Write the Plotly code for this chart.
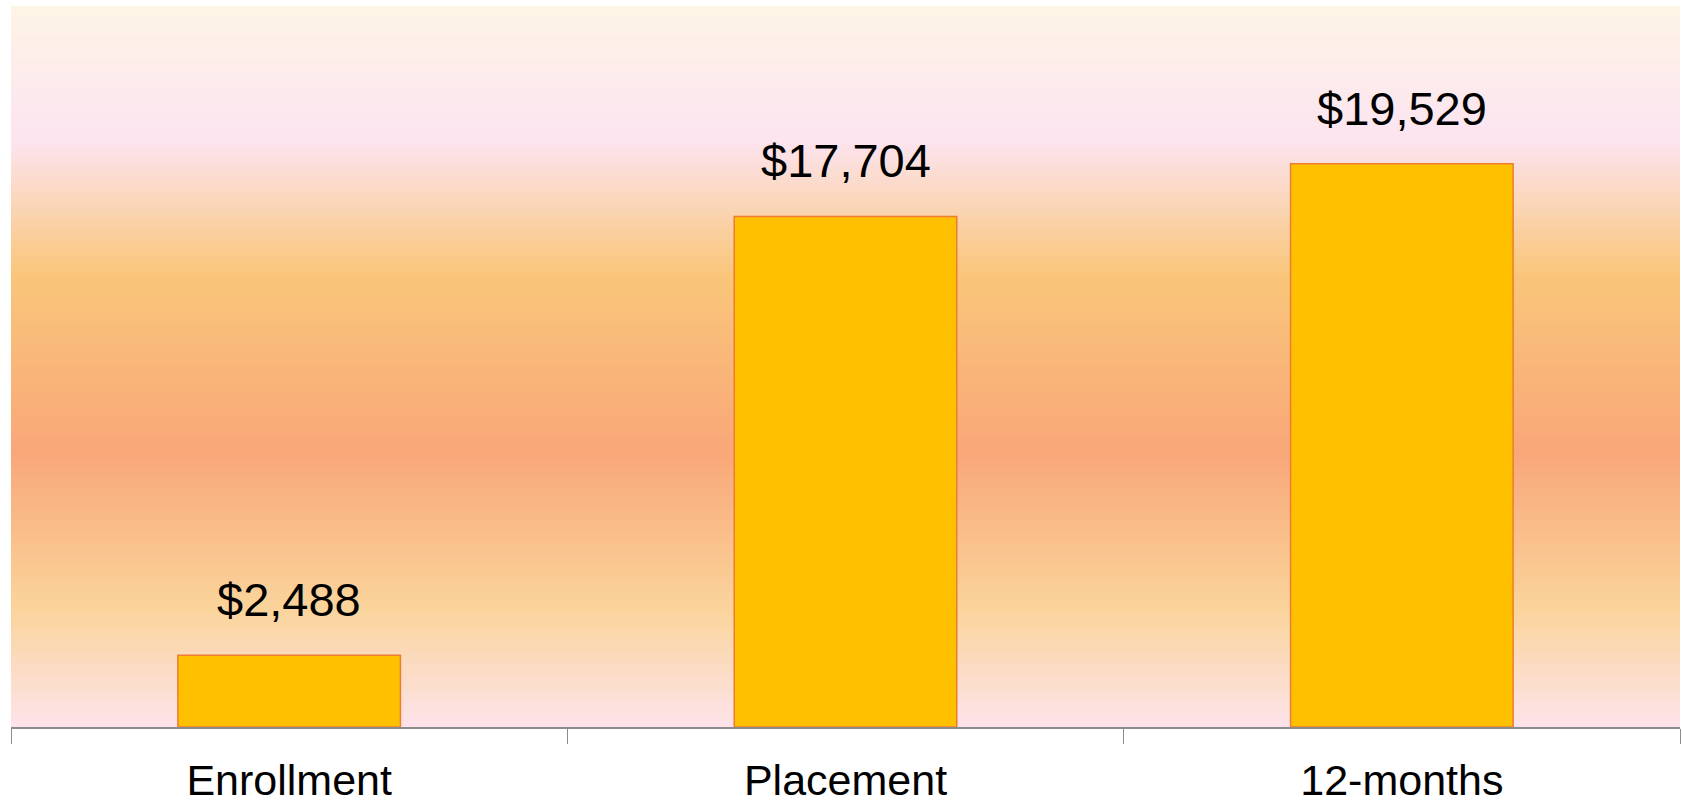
import plotly.graph_objects as go

categories = ["Enrollment", "Placement", "12-months"]
values = [2488, 17704, 19529]
value_labels = ["${:,}".format(v) for v in values]

# background gradient stops (fraction from bottom of plot area, colour)
grad_stops = [
    (0.000, (0xFD, 0xE3, 0xEA)),
    (0.165, (0xFA, 0xD4, 0x9B)),
    (0.380, (0xF9, 0xA7, 0x79)),
    (0.627, (0xF9, 0xC6, 0x7A)),
    (0.814, (0xFC, 0xE4, 0xF0)),
    (1.000, (0xFD, 0xF4, 0xE6)),
]

def grad_color(t):
    for (t0, c0), (t1, c1) in zip(grad_stops[:-1], grad_stops[1:]):
        if t0 <= t <= t1:
            f = (t - t0) / (t1 - t0) if t1 > t0 else 0
            c = [round(a + (b - a) * f) for a, b in zip(c0, c1)]
            return "rgb({},{},{})".format(*c)
    c = grad_stops[-1][1]
    return "rgb({},{},{})".format(*c)

n_strips = 240
shapes = []
for i in range(n_strips):
    y0 = i / n_strips
    y1 = (i + 1) / n_strips
    shapes.append(dict(
        type="rect", xref="paper", yref="paper",
        x0=0, x1=1, y0=y0, y1=min(1, y1 + 0.002),
        fillcolor=grad_color((y0 + y1) / 2),
        line=dict(width=0), layer="below",
    ))

fig = go.Figure()
fig.add_trace(go.Bar(
    x=categories, y=values,
    marker=dict(color="#FFC000", line=dict(color="#ED7D31", width=1.5)),
    hoverinfo="skip",
))

annotations = []
for c, v, t in zip(categories, values, value_labels):
    annotations.append(dict(
        x=c, y=v, xref="x", yref="y", text=t, showarrow=False,
        yanchor="bottom", yshift=27,
        font=dict(family="Liberation Sans, Arial, sans-serif", size=47, color="#000000"),
    ))

fig.update_layout(
    width=1682, height=807,
    margin=dict(l=11, r=2, t=6, b=80, autoexpand=False),
    paper_bgcolor="#FFFFFF",
    plot_bgcolor="rgba(0,0,0,0)",
    showlegend=False,
    bargap=0.6,
    shapes=shapes,
    annotations=annotations,
    xaxis=dict(
        type="category",
        automargin=False,
        showline=True, linecolor="#8C8C8C", linewidth=1.5,
        ticks="outside", tickson="boundaries", ticklen=15, tickcolor="#8C8C8C", tickwidth=1,
        tickfont=dict(family="Liberation Sans, Arial, sans-serif", size=43, color="#000000"),
        ticklabelstandoff=15,
        showgrid=False, zeroline=False,
    ),
    yaxis=dict(range=[0, 25000], visible=False, showgrid=False, zeroline=False, automargin=False),
)

fig.write_html(
    "out.html",
    config={"displayModeBar": False},
    post_script="document.body.style.margin='0px';document.body.style.overflow='hidden';",
)
